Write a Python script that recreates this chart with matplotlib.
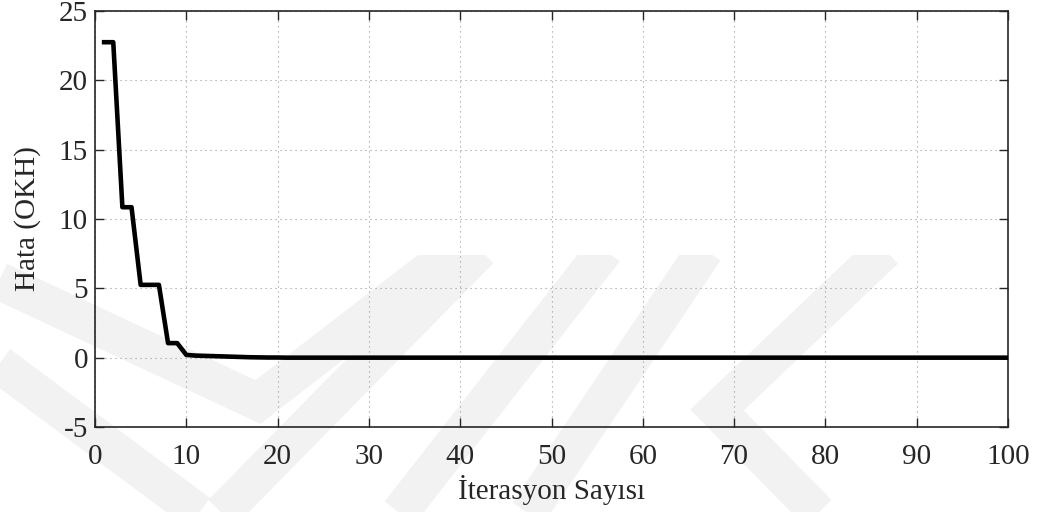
import matplotlib.pyplot as plt

# training error per iteration
iterations = list(range(1, 101))
error = [
    22.75, 22.75, 10.85, 10.85, 5.25, 5.25, 5.25, 1.05, 1.05, 0.20,
    0.15, 0.13, 0.11, 0.09, 0.07, 0.05, 0.03, 0.02, 0.01, 0.01,
    0.0, 0.0, 0.0, 0.0, 0.0, 0.0, 0.0, 0.0, 0.0, 0.0,
    0.0, 0.0, 0.0, 0.0, 0.0, 0.0, 0.0, 0.0, 0.0, 0.0,
    0.0, 0.0, 0.0, 0.0, 0.0, 0.0, 0.0, 0.0, 0.0, 0.0,
    0.0, 0.0, 0.0, 0.0, 0.0, 0.0, 0.0, 0.0, 0.0, 0.0,
    0.0, 0.0, 0.0, 0.0, 0.0, 0.0, 0.0, 0.0, 0.0, 0.0,
    0.0, 0.0, 0.0, 0.0, 0.0, 0.0, 0.0, 0.0, 0.0, 0.0,
    0.0, 0.0, 0.0, 0.0, 0.0, 0.0, 0.0, 0.0, 0.0, 0.0,
    0.0, 0.0, 0.0, 0.0, 0.0, 0.0, 0.0, 0.0, 0.0, 0.0,
]

x_ticks = [0, 10, 20, 30, 40, 50, 60, 70, 80, 90, 100]
y_ticks = [-5, 0, 5, 10, 15, 20, 25]

# faint background watermark bands, in pixel coords of the image
watermark = [
    [(-20, 272), (258, 402), (455, 250)],
    [(-20, 350), (215, 525)],
    [(205, 530), (480, 250)],
    [(390, 525), (605, 250)],
    [(520, 525), (705, 250)],
    [(885, 250), (717, 410), (830, 525)],
]

plt.rcParams['font.family'] = ['Liberation Serif', 'DejaVu Serif']
plt.rcParams['axes.unicode_minus'] = False

fig = plt.figure(figsize=(10.38, 5.12), dpi=100)

bg = fig.add_axes([0, 0, 1, (512 - 255) / 512])
bg.set_xlim(0, 1038)
bg.set_ylim(512, 255)
bg.axis('off')
for band in watermark:
    bx, by = zip(*band)
    bg.plot(bx, by, color='#f2f2f2', lw=27, solid_joinstyle='miter',
            solid_capstyle='butt')

ax = fig.add_axes([95 / 1038, (512 - 427) / 512, 913 / 1038, 416 / 512])
ax.set_facecolor('none')
ax.plot(iterations, error, color='black', lw=3.3, zorder=3)

ax.set_xlim(0, 100)
ax.set_ylim(-5, 25)
ax.set_xticks(x_ticks)
ax.set_yticks(y_ticks)
ax.tick_params(direction='in', length=6.5, width=1.0, colors='#262626',
               labelsize=21, top=True, right=True)
ax.tick_params(axis='y', pad=5)
ax.tick_params(axis='x', pad=12)
for lab in ax.get_xticklabels() + ax.get_yticklabels():
    lab.set_color('#262626')
for sp in ax.spines.values():
    sp.set_linewidth(1.2)
    sp.set_color('#262626')

ax.grid(True, linestyle=(0, (1, 3.5)), color='#999999', lw=0.8)
ax.set_axisbelow(True)

ax.set_xlabel('İterasyon Sayısı', fontsize=21, color='#262626', labelpad=4)
ax.set_ylabel('Hata (OKH)', fontsize=21, color='#262626', labelpad=13)

fig.savefig('out.png', dpi=100)
